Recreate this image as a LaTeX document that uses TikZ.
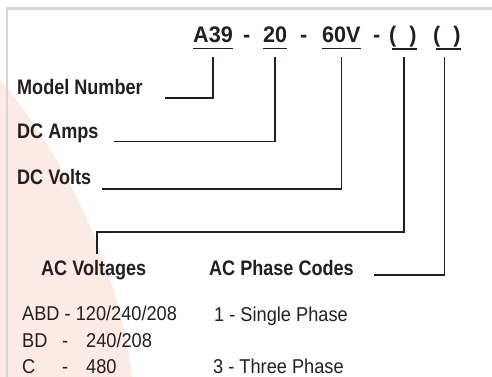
\documentclass[tikz,border=0pt]{standalone}
\usepackage{fontspec}
\setmainfont{Liberation Sans}
\newfontfamily\titlefont[FakeStretch=0.96]{Liberation Sans}
\newfontfamily\labfont[FakeStretch=0.86]{Liberation Sans}
\newfontfamily\txtfont[FakeStretch=0.91]{Liberation Sans}
\definecolor{ink}{HTML}{231F20}
\definecolor{pinkbg}{HTML}{FCEBE5}
\definecolor{framegray}{HTML}{D5D7D7}
\begin{document}
\begin{tikzpicture}[x=1pt,y=-1pt,
  ttl/.style={anchor=base west, inner sep=0pt, text=ink, font=\titlefont\bfseries\fontsize{22.5}{25}\selectfont},
  lab/.style={anchor=base west, inner sep=0pt, text=ink, font=\labfont\bfseries\fontsize{21}{24}\selectfont},
  txt/.style={anchor=base west, inner sep=0pt, text=ink, font=\txtfont\fontsize{20}{22}\selectfont},
  conn/.style={draw=ink, line width=1.8pt},
  uline/.style={draw=ink, line width=1.4pt}]
\useasboundingbox (0,0) rectangle (492,377);
\fill[white] (0,0) rectangle (492,377);
\fill[pinkbg] (0,80) .. controls (60,150) and (118,260) .. (132,377) -- (0,377) -- cycle;
\draw[framegray, line width=2.5pt] (7,377) -- (7,8.5) -- (492,8.5);

% title
\node[ttl] (a39) at (193,43) {A39};
\node[ttl] (d1) at (243,43) {-};
\node[ttl] (n20) at (263,43) {20};
\node[ttl] (d2) at (300,43) {-};
\node[ttl] (v60) at (322,43) {60V};
\node[ttl] (d3) at (373,43) {-};
\node[ttl] (p1) at (389,43) {(\kern13pt)};
\node[ttl] (p2) at (433,43) {(\kern13pt)};
\draw[uline] ([yshift=-5.5pt]a39.base west) -- ([yshift=-5.5pt]a39.base east);
\draw[uline] ([yshift=-5.5pt]n20.base west) -- ([yshift=-5.5pt]n20.base east);
\draw[uline] ([yshift=-5.5pt]v60.base west) -- ([yshift=-5.5pt]v60.base east);
\draw[uline] ([xshift=3pt,yshift=-6pt]p1.base west) -- ([yshift=-6pt]p1.base east);
\draw[uline] ([xshift=3pt,yshift=-6pt]p2.base west) -- ([yshift=-6pt]p2.base east);

% labels
\node[lab] (mn) at (17,95) {Model Number};
\node[lab] (da) at (17,139) {DC Amps};
\node[lab] (dv) at (17,184) {DC Volts};
\node[lab] (acv) at (41,275) {AC Voltages};
\node[lab] (acp) at (209,275) {AC Phase Codes};

% connectors
\coordinate (top) at (0,57);
\path ([xshift=1.5pt]p1.south) coordinate (p1c);
\path ([xshift=-2.5pt]p2.south) coordinate (p2c);
\coordinate (mnE) at (165,98);
\coordinate (daE) at (114,141.5);
\coordinate (dvE) at (102,189);
\coordinate (acK) at (97,232.3);
\coordinate (acE) at (97,254);
\coordinate (pcE) at (374,275);
\draw[conn] (a39 |- top) |- (mnE);
\draw[conn] (n20 |- top) |- (daE);
\draw[conn] (v60 |- top) |- (dvE);
\draw[conn] (p1c |- top) |- (acK) -- (acE);
\draw[conn] (p2c |- top) |- (pcE);

% codes
\node[txt] (v1) at (22,320) {ABD - 120/240/208};
\node[txt] (v2a) at (22,347) {BD};
\node[txt] (v2b) at (62,347) {-};
\node[txt] (v2c) at (86,347) {240/208};
\node[txt] (v3a) at (22,373) {C};
\node[txt] (v3b) at (62,373) {-};
\node[txt] (v3c) at (86,373) {480};
\node[txt] (ph1) at (214,321) {1 - Single Phase};
\node[txt] (ph3) at (213,373) {3 - Three Phase};
\end{tikzpicture}
\end{document}
